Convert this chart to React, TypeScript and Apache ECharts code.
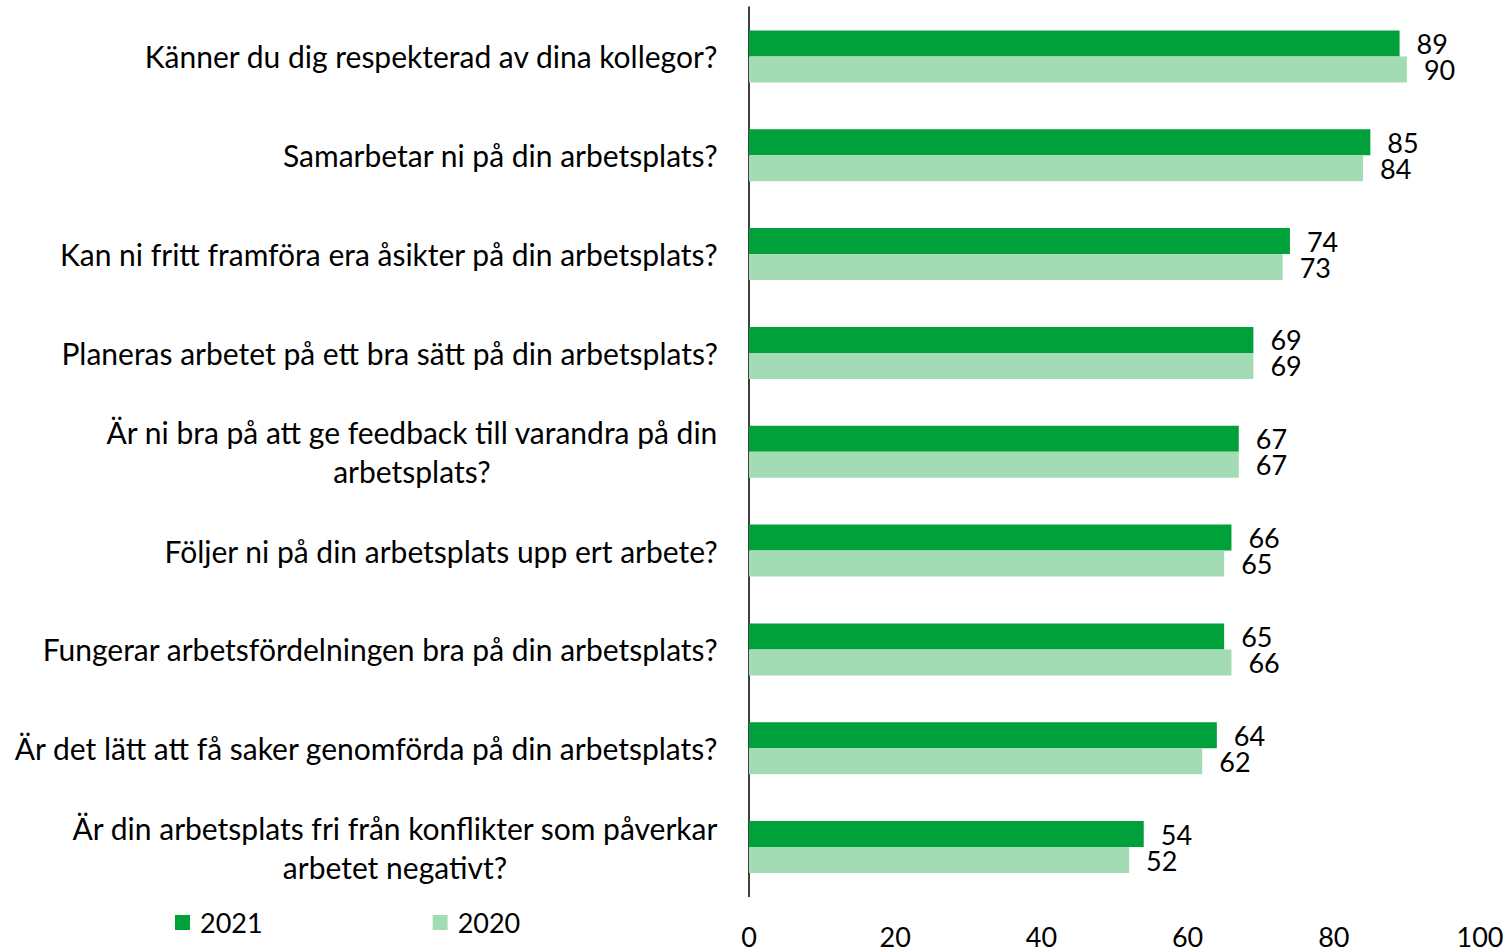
import React, { useEffect, useRef } from "react";
import * as echarts from "echarts";

const categories = [
  "Känner du dig respekterad av dina kollegor?",
  "Samarbetar ni på din arbetsplats?",
  "Kan ni fritt framföra era åsikter på din arbetsplats?",
  "Planeras arbetet på ett bra sätt på din arbetsplats?",
  "Är ni bra på att ge feedback till varandra på din\narbetsplats?",
  "Följer ni på din arbetsplats upp ert arbete?",
  "Fungerar arbetsfördelningen bra på din arbetsplats?",
  "Är det lätt att få saker genomförda på din arbetsplats?",
  "Är din arbetsplats fri från konflikter som påverkar\narbetet negativt?",
];
const values2021 = [89, 85, 74, 69, 67, 66, 65, 64, 54];
const values2020 = [90, 84, 73, 69, 67, 65, 66, 62, 52];
const seriesNames = ["2021", "2020"];
const xTicks = { min: 0, max: 100, interval: 20 };

const FONT = "Lato, 'Noto Sans', sans-serif";

export default function App() {
  const ref = useRef<HTMLDivElement>(null);
  useEffect(() => {
    if (!ref.current) return;
    const chart = echarts.init(ref.current, null, { renderer: "svg" });
    const dataLabel = {
      show: true,
      position: "right",
      distance: 17,
      fontSize: 27,
      lineHeight: 22,
      color: "#000",
      fontFamily: FONT,
    };
    chart.setOption({
      animation: false,
      textStyle: { fontFamily: FONT },
      grid: { left: 749, right: 29, top: 7, bottom: 52, containLabel: false },
      legend: {
        left: 175,
        top: 909,
        padding: 0,
        itemWidth: 15,
        itemHeight: 15,
        itemGap: 170,
        icon: "rect",
        textStyle: {
          fontSize: 27,
          color: "#000",
          fontFamily: FONT,
          lineHeight: 26,
          padding: [0, 0, 0, 5],
        },
        data: seriesNames,
      },
      xAxis: {
        type: "value",
        min: xTicks.min,
        max: xTicks.max,
        interval: xTicks.interval,
        splitLine: { show: false },
        axisLine: { show: false },
        axisTick: { show: false },
        axisLabel: {
          fontSize: 27,
          color: "#000",
          margin: 31,
          lineHeight: 18,
          fontFamily: FONT,
        },
      },
      yAxis: {
        type: "category",
        inverse: true,
        data: categories,
        axisLine: { show: true, lineStyle: { color: "#000", width: 1.5 } },
        axisTick: { show: false },
        axisLabel: {
          margin: 31,
          formatter: (v: string) =>
            v
              .split("\n")
              .map((l) => `{c|${l}}`)
              .join("\n"),
          rich: {
            c: {
              align: "center",
              fontSize: 30,
              color: "#000",
              fontFamily: FONT,
              lineHeight: 39,
            },
          },
        },
      },
      series: [
        {
          name: seriesNames[0],
          type: "bar",
          data: values2021,
          barWidth: 26,
          barGap: "0%",
          itemStyle: { color: "#00A03A" },
          label: dataLabel,
        },
        {
          name: seriesNames[1],
          type: "bar",
          data: values2020,
          barWidth: 26,
          barGap: "0%",
          itemStyle: { color: "#A2DBB4" },
          label: dataLabel,
        },
      ],
    });
    return () => chart.dispose();
  }, []);
  return (
    <div
      ref={ref}
      style={{ position: "fixed", left: 0, top: 0, width: 1509, height: 950, background: "#fff" }}
    />
  );
}
